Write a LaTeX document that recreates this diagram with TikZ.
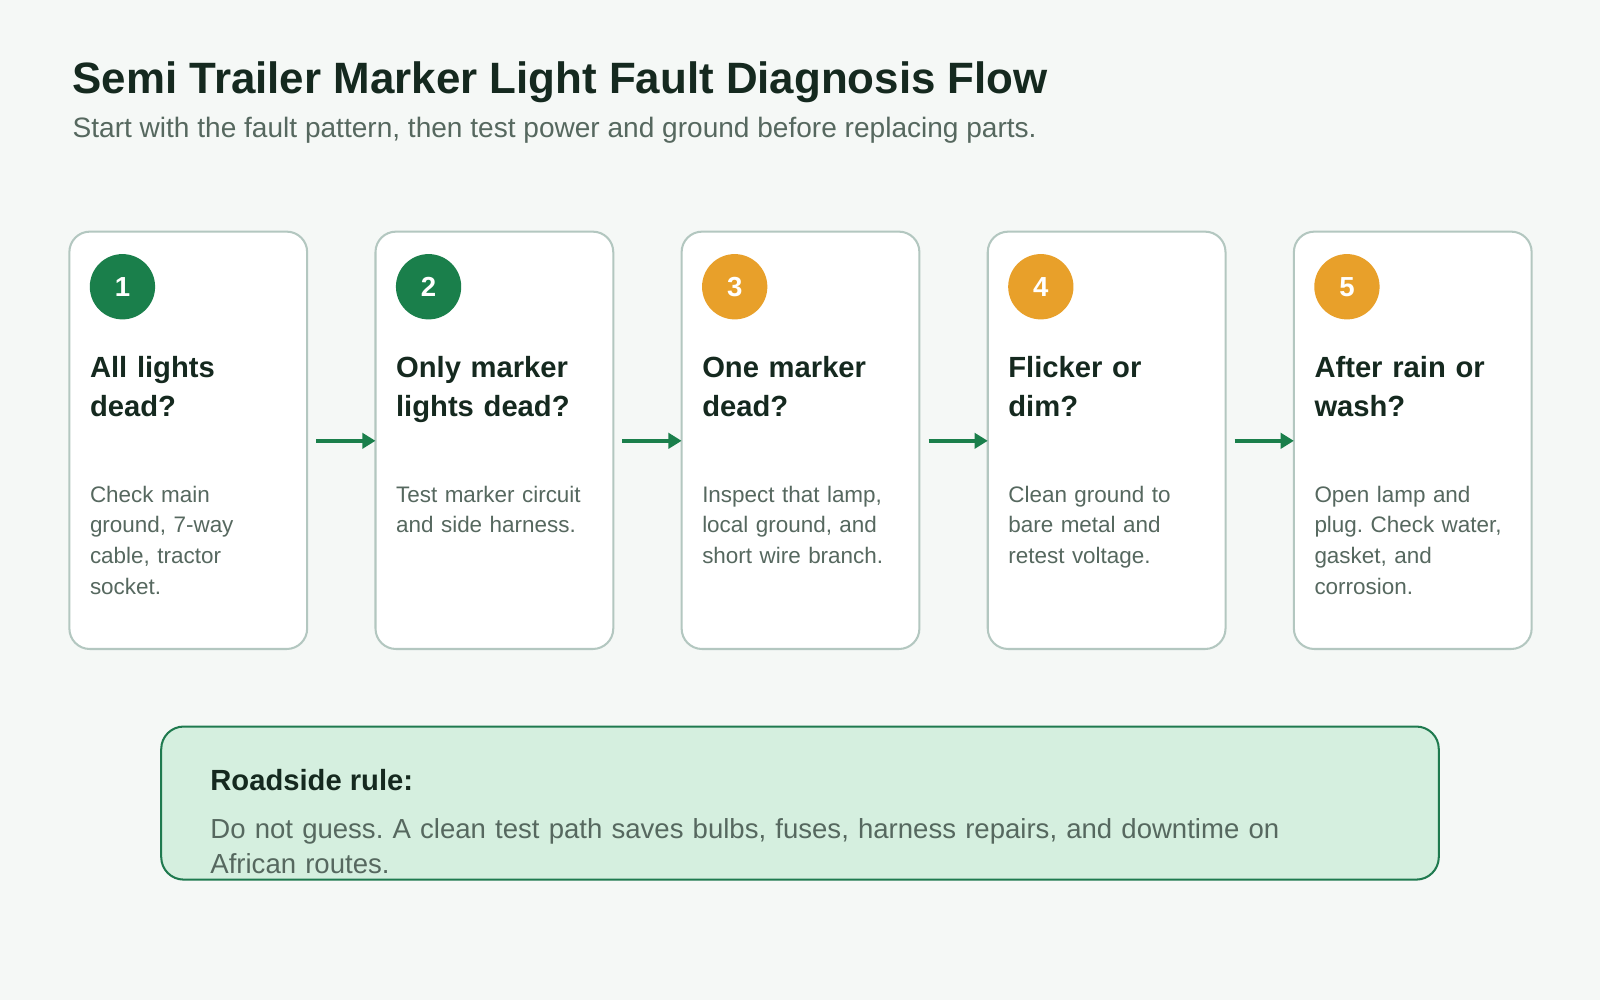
\documentclass[tikz,border=0pt]{standalone}
\usepackage{fontspec}
\usetikzlibrary{arrows.meta}
\setmainfont{Liberation Sans}
\frenchspacing
\definecolor{bg}{HTML}{F5F8F6}
\definecolor{cardb}{HTML}{B3C7C0}
\definecolor{grn}{HTML}{1A7F4B}
\definecolor{org}{HTML}{E8A02A}
\definecolor{dark}{HTML}{15291F}
\definecolor{gray}{HTML}{56685F}
\definecolor{notef}{HTML}{D5EFDF}
\definecolor{noteb}{HTML}{1F7A4F}
\begin{document}
\begin{tikzpicture}[x=1pt,y=-1pt,
 card/.style={draw=cardb,line width=2pt,fill=white,rounded corners=20pt},
 num/.style={circle,minimum size=64pt,inner sep=0pt,text=white,font=\fontsize{27}{30}\selectfont\bfseries},
 head/.style={anchor=north west,inner sep=0pt,text width=210pt,align=left,text=dark,font=\fontsize{28.6}{38}\selectfont\bfseries},
 body/.style={anchor=north west,inner sep=0pt,text width=210pt,align=left,text=gray,font=\fontsize{22}{30}\selectfont},
 arr/.style={draw=grn,line width=3.5pt,-{Triangle[length=13pt,width=15pt]}}]
\fill[bg] (0,0) rectangle (1568,980);
\useasboundingbox (0,0) rectangle (1568,980);
\node[anchor=base west,inner sep=0pt,text=dark,font=\fontsize{43}{48}\selectfont\bfseries] (title) at (71,92) {Semi Trailer Marker Light Fault Diagnosis Flow};
\node[anchor=base west,inner sep=0pt,text=gray,font=\fontsize{27.5}{30}\selectfont] (sub) at (71,135) {Start with the fault pattern, then test power and ground before replacing parts.};
\foreach \i/\x/\c/\h/\b in {
 1/68/grn/{All lights\\dead?}/{Check main\\ground, 7-way\\cable, tractor\\socket.},
 2/368/grn/{Only marker\\lights dead?}/{Test marker circuit\\and side harness.},
 3/668/org/{One marker\\dead?}/{Inspect that lamp,\\local ground, and\\short wire branch.},
 4/968/org/{Flicker or\\dim?}/{Clean ground to\\bare metal and\\retest voltage.},
 5/1268/org/{After rain or\\wash?}/{Open lamp and\\plug. Check water,\\gasket, and\\corrosion.}}{
 \draw[card] (\x,227) rectangle ++(233,409);
 \node[num,fill=\c] (n\i) at (\x+52,281) {\raisebox{-5pt}{\i}};
 \node[head] (h\i) at (\x+20,349) {\h};
 \node[body] (b\i) at (\x+20,476) {\b};
 \coordinate (L\i) at (\x,432);
 \coordinate (R\i) at (\x+233,432);
}
\foreach \a/\b in {1/2,2/3,3/4,4/5}{
 \draw[arr] ([xshift=9pt]R\a) -- (L\b);
}
\draw[draw=noteb,fill=notef,line width=2pt,rounded corners=22pt] (158,712) rectangle (1410,862);
\node[anchor=base west,inner sep=0pt,text=dark,font=\fontsize{28.6}{32}\selectfont\bfseries] (rule) at (206,775) {Roadside rule:};
\node[anchor=north west,inner sep=0pt,text width=1090pt,align=left,text=gray,font=\fontsize{27}{34}\selectfont] (ruletext) at (206,802) {Do not guess. A clean test path saves bulbs, fuses, harness repairs, and downtime on African routes.};
\end{tikzpicture}
\end{document}
